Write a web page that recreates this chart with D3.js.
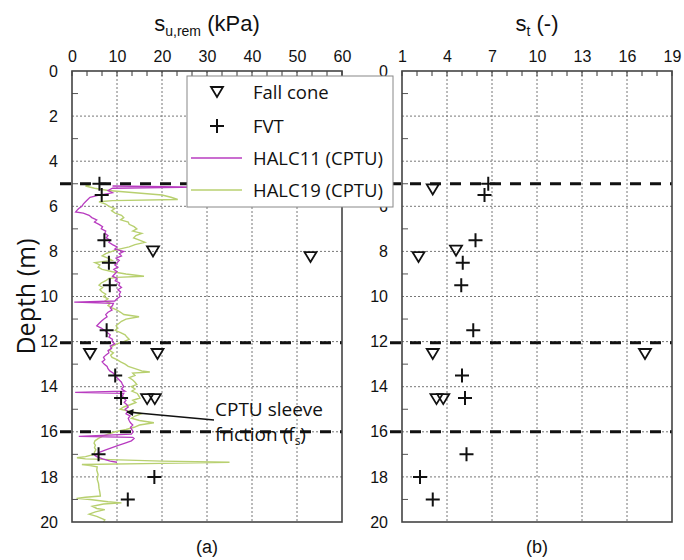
<!DOCTYPE html>
<html>
<head>
<meta charset="utf-8">
<script src="https://cdn.jsdelivr.net/npm/d3@7"></script>
<style>
  html, body { margin: 0; padding: 0; background: #fff; }
  svg { display: block; }
</style>
</head>
<body>
<svg id="chart" width="684" height="560"></svg>
<script>
// Depth axis and tick values
const depthTicks = [0, 2, 4, 6, 8, 10, 12, 14, 16, 18, 20];
const depthMinor = [1, 3, 5, 7, 9, 11, 13, 15, 17, 19];
const suTicks = [0, 10, 20, 30, 40, 50, 60];
const stTicks = [1, 4, 7, 10, 13, 16, 19];

// Layer boundaries (m)
const boundaries = [5, 12.05, 16];

// Fall cone remoulded strength [su,rem kPa, depth m]
const fallConeSu = [[18, 8.0], [53, 8.25], [4, 12.55], [19, 12.55], [16.7, 14.55], [18.4, 14.55]];
// FVT remoulded strength [su,rem kPa, depth m]
const fvtSu = [[6.1, 5.0], [6.6, 5.5], [7.2, 7.5], [8.2, 8.5], [8.4, 9.5], [7.7, 11.5],
               [9.6, 13.5], [10.9, 14.5], [5.9, 17.0], [18.3, 18.0], [12.4, 19.0]];

// Sensitivity [St, depth m]
const fallConeSt = [[3.05, 5.25], [2.1, 8.25], [4.6, 7.97], [3.05, 12.55], [17.2, 12.55], [3.3, 14.55], [3.75, 14.55]];
const fvtSt = [[6.75, 5.0], [6.5, 5.5], [5.9, 7.5], [5.05, 8.5], [4.95, 9.5], [5.75, 11.5],
               [5.0, 13.5], [5.2, 14.5], [5.3, 17.0], [2.2, 18.0], [3.05, 19.0]];

// CPTU sleeve friction profiles [depth m, fs kPa]
const halc11 = [
  [5.10, 9], [5.15, 28], [5.20, 9], [5.30, 8], [5.40, 9], [5.50, 6], [5.60, 4], [5.70, 3.5],
  [5.80, 3], [5.90, 2.5], [6.00, 2.2], [6.10, 1.5], [6.20, 1], [6.25, 0.8], [6.30, 2.5],
  [6.40, 3.8], [6.50, 4.4], [6.60, 5.5], [6.70, 5], [6.80, 6], [6.90, 6.8], [7.00, 6.5],
  [7.10, 7.5], [7.20, 7.3], [7.30, 8], [7.40, 7.6], [7.50, 8.5], [7.60, 8.2], [7.70, 9],
  [7.80, 10], [7.90, 9.5], [8.00, 11.5], [8.10, 10.5], [8.20, 11], [8.30, 9.8], [8.40, 10.5],
  [8.50, 10], [8.60, 9.5], [8.70, 10.2], [8.80, 9.3], [8.90, 10], [9.00, 9.5], [9.10, 9],
  [9.20, 10], [9.30, 9.6], [9.40, 10.6], [9.50, 10.4], [9.60, 11], [9.70, 10.2], [9.80, 10.8],
  [9.90, 10.5], [10.00, 10.7], [10.10, 10], [10.20, 9.5], [10.25, 0.5], [10.30, 9.2],
  [10.40, 9], [10.50, 8.5], [10.60, 8.9], [10.70, 8], [10.80, 7.5], [10.90, 7.8], [11.00, 7.1],
  [11.10, 6.5], [11.20, 6], [11.30, 5.5], [11.40, 6.5], [11.50, 7.2], [11.60, 7.8], [11.70, 8.5],
  [11.80, 8.2], [11.90, 9], [12.00, 8.9], [12.10, 9.5], [12.20, 8.5], [12.30, 8.8], [12.40, 8],
  [12.50, 8.2], [12.60, 7.5], [12.70, 7], [12.80, 7.3], [12.90, 6.7], [13.00, 7.2], [13.10, 7.8],
  [13.20, 8], [13.30, 8.4], [13.40, 9.2], [13.50, 9.5], [13.60, 10], [13.70, 10.5], [13.80, 11],
  [13.90, 11.2], [14.00, 11.5], [14.10, 11], [14.20, 11.8], [14.25, 0.7], [14.30, 11.5],
  [14.40, 11.2], [14.50, 11.5], [14.60, 12], [14.70, 11.6], [14.80, 12.2], [14.90, 12.5],
  [15.00, 11.8], [15.10, 12.4], [15.20, 12], [15.30, 12.9], [15.40, 12.5], [15.50, 12.7],
  [15.60, 13], [15.70, 13.5], [15.80, 13], [15.90, 13.3], [16.00, 13.6], [16.10, 13.2],
  [16.20, 1.5], [16.25, 13.5], [16.30, 13.8], [16.40, 13.2], [16.50, 11.8], [16.60, 10.3],
  [16.70, 8.9], [16.80, 7.5], [16.90, 6.2], [17.00, 5.4], [17.05, 5.1], [17.10, 5.5],
  [17.20, 6.8], [17.30, 8.5], [17.35, 10]
];
const halc19 = [
  [5.00, 2.5], [5.05, 4], [5.10, 3], [5.20, 5], [5.30, 8], [5.40, 14], [5.50, 20], [5.60, 22],
  [5.70, 23.5], [5.75, 9], [5.80, 6], [5.90, 7.5], [6.00, 8.2], [6.10, 9.5], [6.20, 8.8],
  [6.30, 9.6], [6.40, 11], [6.50, 11.5], [6.60, 10.8], [6.70, 12.5], [6.80, 12.7], [6.90, 13.8],
  [7.00, 14.4], [7.10, 13.5], [7.20, 15.5], [7.30, 14.2], [7.40, 13.7], [7.50, 15], [7.60, 16.2],
  [7.70, 14], [7.80, 12.7], [7.90, 10.5], [8.00, 8.9], [8.10, 7.5], [8.20, 6.7], [8.30, 8],
  [8.40, 8.9], [8.50, 5.1], [8.60, 6.2], [8.70, 5.8], [8.80, 6.7], [8.90, 9], [9.00, 12],
  [9.10, 16], [9.15, 10], [9.20, 8.2], [9.30, 7.5], [9.40, 6.5], [9.50, 6], [9.60, 6.8],
  [9.70, 6.2], [9.80, 6.7], [9.90, 7.5], [10.00, 7], [10.10, 8], [10.20, 7.3], [10.30, 8.5],
  [10.40, 8], [10.50, 8.9], [10.60, 10], [10.70, 10.8], [10.80, 11.5], [10.90, 14.9], [11.00, 12],
  [11.10, 11], [11.20, 10.4], [11.30, 9.8], [11.40, 10.2], [11.50, 9.6], [11.60, 10.8],
  [11.70, 11.8], [11.80, 12.2], [11.90, 12.7], [12.00, 11.5], [12.10, 10], [12.20, 9],
  [12.30, 8.7], [12.40, 8.4], [12.50, 9.2], [12.60, 8.6], [12.70, 8.9], [12.80, 10], [12.90, 10.8],
  [13.00, 11.8], [13.10, 12.5], [13.20, 14], [13.30, 15.5], [13.35, 17.3], [13.40, 13.5],
  [13.50, 14], [13.60, 12.7], [13.70, 13.5], [13.80, 14], [13.90, 14.4], [14.00, 13.2],
  [14.10, 14], [14.20, 13.3], [14.30, 14.5], [14.40, 14.8], [14.50, 15.1], [14.60, 13.5],
  [14.70, 14.2], [14.80, 12.9], [14.90, 11.5], [15.00, 10.7], [15.10, 13], [15.20, 15.5],
  [15.30, 14], [15.40, 13.2], [15.50, 15], [15.60, 18.2], [15.70, 15], [15.80, 13.8],
  [15.90, 12], [16.00, 9.6], [16.10, 8], [16.20, 6.7], [16.30, 5.8], [16.40, 5.1], [16.50, 4.9],
  [16.60, 5.2], [16.70, 5], [16.80, 5.3], [16.90, 5], [17.00, 4.9], [17.10, 3], [17.15, 1.1],
  [17.20, 3], [17.30, 20], [17.35, 35], [17.40, 20], [17.45, 2.2], [17.50, 4], [17.55, 5.6],
  [17.70, 5.5], [17.90, 5.8], [18.10, 5.6], [18.30, 5.9], [18.50, 6], [18.70, 6.2], [18.85, 6.3],
  [18.90, 3], [18.95, 1], [19.00, 4], [19.10, 8], [19.15, 11], [19.20, 7], [19.30, 4.5],
  [19.40, 5.5], [19.45, 7.3], [19.55, 5.2], [19.65, 3.8], [19.75, 5.5], [19.90, 7.3], [20.00, 7]
];

const colors = { halc11: "#b83cc0", halc19: "#b8d070" };

const svg = d3.select("#chart");
const yTop = 71, yBottom = 522;
const y = d3.scaleLinear().domain([0, 20]).range([yTop, yBottom]);
const xL = d3.scaleLinear().domain([0, 60]).range([72, 342]);
const xR = d3.scaleLinear().domain([1, 19]).range([402, 672]);

const tickFont = "'Liberation Sans', Arial, sans-serif";
const textFont = "'Open Sans', 'Noto Sans', sans-serif";

// legend box (drawn last, over the right panel's upper depth labels)
const legendBox = { x: 187, y: 76, w: 206, h: 131 };

function panel(x, xTicks, minorStep) {
  const g = svg.append("g");
  const [x0, x1] = x.range();

  // dotted grid
  g.append("g").selectAll("line").data(xTicks.slice(1, -1)).join("line")
    .attr("x1", d => x(d)).attr("x2", d => x(d))
    .attr("y1", yTop).attr("y2", yBottom)
    .attr("stroke", "#777").attr("stroke-width", 1).attr("stroke-dasharray", "2,2");
  g.append("g").selectAll("line").data(depthTicks.slice(1, -1)).join("line")
    .attr("x1", x0).attr("x2", x1)
    .attr("y1", d => y(d)).attr("y2", d => y(d))
    .attr("stroke", "#777").attr("stroke-width", 1).attr("stroke-dasharray", "2,2");

  // top axis labels
  const ax = g.append("g").attr("transform", `translate(0,${yTop})`)
    .call(d3.axisTop(x).tickValues(xTicks).tickSize(0).tickPadding(9).tickFormat(d3.format("d")));
  ax.select(".domain").remove();
  ax.selectAll("text").attr("font-family", tickFont).attr("font-size", 16).attr("fill", "#111");

  // minor top ticks (inward)
  const [d0, d1] = x.domain();
  const minor = d3.range(d0, d1 + 1e-9, minorStep);
  g.append("g").selectAll("line").data(minor).join("line")
    .attr("x1", d => x(d)).attr("x2", d => x(d))
    .attr("y1", yTop).attr("y2", yTop + 5)
    .attr("stroke", "#333").attr("stroke-width", 1);

  // left axis labels; labels lying entirely beneath the legend box are skipped
  const hidden = d => x0 - 20 > legendBox.x && x0 - 20 < legendBox.x + legendBox.w &&
    y(d) - 8 > legendBox.y && y(d) + 8 < legendBox.y + legendBox.h;
  const ay = g.append("g").attr("transform", `translate(${x0},0)`)
    .call(d3.axisLeft(y).tickValues(depthTicks.filter(d => !hidden(d)))
      .tickSize(0).tickPadding(14).tickFormat(d3.format("d")));
  ay.select(".domain").remove();
  ay.selectAll("text").attr("font-family", tickFont).attr("font-size", 16).attr("fill", "#111");
  g.append("g").selectAll("line").data(depthMinor).join("line")
    .attr("x1", x0).attr("x2", x0 + 6)
    .attr("y1", d => y(d)).attr("y2", d => y(d))
    .attr("stroke", "#555").attr("stroke-width", 1);
  return g;
}

const gL = panel(xL, suTicks, 10 / 3);
const gR = panel(xR, stTicks, 1);

// CPTU profiles
const line = d3.line().x(d => xL(d[1])).y(d => y(d[0]));
gL.append("path").datum(halc19).attr("d", line)
  .attr("fill", "none").attr("stroke", colors.halc19).attr("stroke-width", 1.4);
gL.append("path").datum(halc11).attr("d", line)
  .attr("fill", "none").attr("stroke", colors.halc11).attr("stroke-width", 1.3);

// markers
const tri = "M-6,-5L6,-5L0,5Z";
function drawTriangles(g, x, data) {
  g.append("g").selectAll("path").data(data).join("path")
    .attr("transform", d => `translate(${x(d[0])},${y(d[1])})`)
    .attr("d", tri).attr("fill", "none").attr("stroke", "#111").attr("stroke-width", 1.8);
}
function drawPlus(g, x, data) {
  g.append("g").selectAll("path").data(data).join("path")
    .attr("transform", d => `translate(${x(d[0])},${y(d[1])})`)
    .attr("d", "M-7,0H7M0,-7V7").attr("fill", "none").attr("stroke", "#111").attr("stroke-width", 2);
}
drawTriangles(gL, xL, fallConeSu);
drawPlus(gL, xL, fvtSu);
drawTriangles(gR, xR, fallConeSt);
drawPlus(gR, xR, fvtSt);

// layer boundaries
[[gL, xL], [gR, xR]].forEach(([g, x]) => {
  const [x0, x1] = x.range();
  g.append("g").selectAll("line").data(boundaries).join("line")
    .attr("x1", x0 - 12).attr("x2", x1)
    .attr("y1", d => y(d)).attr("y2", d => y(d))
    .attr("stroke", "#111").attr("stroke-width", 3).attr("stroke-dasharray", "11,9");
});

// panel frames
[xL, xR].forEach(x => {
  const [x0, x1] = x.range();
  svg.append("rect").attr("x", x0).attr("y", yTop).attr("width", x1 - x0).attr("height", yBottom - yTop)
    .attr("fill", "none").attr("stroke", "#444").attr("stroke-width", 1.6);
});

// axis titles
const t1 = svg.append("text").attr("x", (xL.range()[0] + xL.range()[1]) / 2).attr("y", 31)
  .attr("text-anchor", "middle").attr("font-family", tickFont).attr("font-size", 22).attr("fill", "#111");
t1.append("tspan").text("s");
t1.append("tspan").attr("font-size", 14).attr("dy", 5).text("u,rem");
t1.append("tspan").attr("dy", -5).text(" (kPa)");

const t2 = svg.append("text").attr("x", (xR.range()[0] + xR.range()[1]) / 2).attr("y", 31)
  .attr("text-anchor", "middle").attr("font-family", tickFont).attr("font-size", 22).attr("fill", "#111");
t2.append("tspan").text("s");
t2.append("tspan").attr("font-size", 14).attr("dy", 5).text("t");
t2.append("tspan").attr("dy", -5).text(" (-)");

svg.append("text").attr("transform", `translate(35,${(yTop + yBottom) / 2}) rotate(-90)`)
  .attr("text-anchor", "middle").attr("font-family", textFont).attr("font-size", 25).attr("fill", "#111")
  .text("Depth (m)");

svg.append("text").attr("x", (xL.range()[0] + xL.range()[1]) / 2).attr("y", 553)
  .attr("text-anchor", "middle").attr("font-family", tickFont).attr("font-size", 18).attr("fill", "#111").text("(a)");
svg.append("text").attr("x", (xR.range()[0] + xR.range()[1]) / 2).attr("y", 553)
  .attr("text-anchor", "middle").attr("font-family", tickFont).attr("font-size", 18).attr("fill", "#111").text("(b)");

// annotation
svg.append("defs").append("marker").attr("id", "arrow")
  .attr("viewBox", "0 0 10 10").attr("refX", 9).attr("refY", 5)
  .attr("markerWidth", 9).attr("markerHeight", 7).attr("markerUnits", "userSpaceOnUse")
  .attr("orient", "auto")
  .append("path").attr("d", "M0,0L10,5L0,10Z").attr("fill", "#111");
svg.append("line").attr("x1", 214).attr("y1", 420).attr("x2", 127).attr("y2", 412)
  .attr("stroke", "#111").attr("stroke-width", 1.5).attr("marker-end", "url(#arrow)");
const ann = svg.append("g").attr("font-family", textFont).attr("font-size", 19).attr("fill", "#111");
ann.append("text").attr("x", 215).attr("y", 416).text("CPTU sleeve");
const a2 = ann.append("text").attr("x", 215).attr("y", 441);
a2.append("tspan").text("friction (f");
a2.append("tspan").attr("font-size", 12).attr("dy", 4).text("s");
a2.append("tspan").attr("dy", -4).text(")");

// legend
const lg = svg.append("g");
lg.append("rect").attr("x", legendBox.x).attr("y", legendBox.y)
  .attr("width", legendBox.w).attr("height", legendBox.h)
  .attr("fill", "#fff").attr("stroke", "#888").attr("stroke-width", 1);
const items = [
  { label: "Fall cone", type: "tri", y: 92 },
  { label: "FVT", type: "plus", y: 126 },
  { label: "HALC11 (CPTU)", type: "line", color: colors.halc11, y: 158 },
  { label: "HALC19 (CPTU)", type: "line", color: colors.halc19, y: 190 }
];
items.forEach(it => {
  if (it.type === "tri") {
    lg.append("path").attr("transform", `translate(217,${it.y})`).attr("d", tri)
      .attr("fill", "none").attr("stroke", "#111").attr("stroke-width", 1.8);
  } else if (it.type === "plus") {
    lg.append("path").attr("transform", `translate(217,${it.y})`).attr("d", "M-7,0H7M0,-7V7")
      .attr("fill", "none").attr("stroke", "#111").attr("stroke-width", 2);
  } else {
    lg.append("line").attr("x1", 191).attr("x2", 242).attr("y1", it.y).attr("y2", it.y)
      .attr("stroke", it.color).attr("stroke-width", 1.5);
  }
  lg.append("text").attr("x", 253).attr("y", it.y + 7).attr("font-family", textFont)
    .attr("font-size", 18.5).attr("fill", "#111").text(it.label);
});
</script>
</body>
</html>
